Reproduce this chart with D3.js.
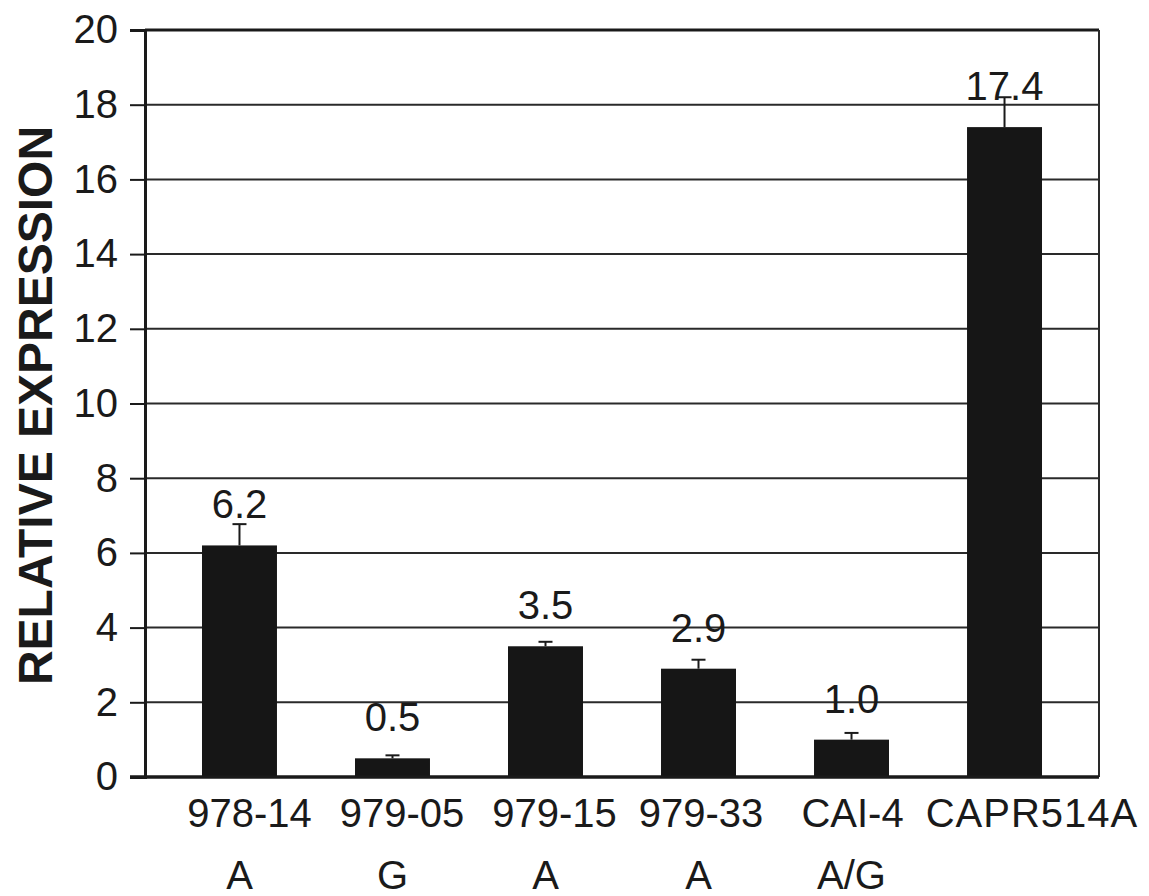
<!DOCTYPE html>
<html>
<head>
<meta charset="utf-8">
<script src="https://cdn.jsdelivr.net/npm/d3@7"></script>
<style>
  html, body { margin: 0; padding: 0; background: #fff; }
  svg { display: block; }
  text { font-family: "Liberation Sans", Arial, sans-serif; fill: #1a1a1a; }
</style>
</head>
<body>
<svg id="chart" width="1149" height="896"></svg>
<script>
// Strain names, allele row and expression values with their error bars
const strains = ["978-14", "979-05", "979-15", "979-33", "CAI-4", "CAPR514A"];
const alleles = ["A", "G", "A", "A", "A/G", ""];
const expression = [6.2, 0.5, 3.5, 2.9, 1.0, 17.4];
const errors = [0.57, 0.08, 0.12, 0.24, 0.18, 0.8];
const yTicks = [0, 2, 4, 6, 8, 10, 12, 14, 16, 18, 20];

const svg = d3.select("#chart");
const plotLeft = 145, plotRight = 1099, plotTop = 30, plotBottom = 777;

const x = d3.scaleBand()
  .domain(strains)
  .range([plotLeft, plotRight])
  .paddingInner(0.51)
  .paddingOuter(0.3725);

const y = d3.scaleLinear().domain([0, 20]).range([plotBottom, plotTop]);

const data = strains.map((s, i) => ({
  strain: s, allele: alleles[i], value: expression[i], err: errors[i]
}));

// Horizontal nudges of the strain names relative to bar centres (layout only)
const nameNudge = [10, 9.5, 9, 2.5, 1, 27.5];

// Horizontal gridlines
svg.append("g")
  .selectAll("line")
  .data(yTicks.filter(t => t > 0 && t < 20))
  .join("line")
  .attr("x1", plotLeft).attr("x2", plotRight)
  .attr("y1", d => y(d)).attr("y2", d => y(d))
  .attr("stroke", "#2a2a2a").attr("stroke-width", 2);

// Frame: top and right
svg.append("line").attr("x1", plotLeft).attr("x2", plotRight)
  .attr("y1", y(20)).attr("y2", y(20))
  .attr("stroke", "#1a1a1a").attr("stroke-width", 3);
svg.append("line").attr("x1", plotRight).attr("x2", plotRight)
  .attr("y1", y(20)).attr("y2", y(0))
  .attr("stroke", "#2a2a2a").attr("stroke-width", 2);

// Y axis with tick labels
const yAxis = svg.append("g")
  .attr("transform", `translate(${plotLeft},0)`)
  .call(d3.axisLeft(y).tickValues(yTicks).tickSize(15).tickPadding(12).tickFormat(d3.format("d")));
yAxis.select(".domain").attr("stroke", "#1a1a1a").attr("stroke-width", 3);
yAxis.selectAll(".tick line").attr("stroke", "#1a1a1a").attr("stroke-width", 2);
yAxis.selectAll(".tick text")
  .attr("font-size", 40)
  .attr("font-family", "Liberation Sans, Arial, sans-serif")
  .attr("fill", "#1a1a1a");

// Bars
svg.append("g")
  .selectAll("rect")
  .data(data)
  .join("rect")
  .attr("x", d => x(d.strain))
  .attr("width", x.bandwidth())
  .attr("y", d => y(d.value))
  .attr("height", d => y(0) - y(d.value))
  .attr("fill", "#161616");

// Error bars (upper)
const eb = svg.append("g").attr("stroke", "#1a1a1a").attr("stroke-width", 2);
eb.selectAll("line.v")
  .data(data)
  .join("line")
  .attr("class", "v")
  .attr("x1", d => x(d.strain) + x.bandwidth() / 2)
  .attr("x2", d => x(d.strain) + x.bandwidth() / 2)
  .attr("y1", d => y(d.value))
  .attr("y2", d => y(d.value + d.err));
eb.selectAll("line.cap")
  .data(data)
  .join("line")
  .attr("class", "cap")
  .attr("x1", d => x(d.strain) + x.bandwidth() / 2 - 7)
  .attr("x2", d => x(d.strain) + x.bandwidth() / 2 + 7)
  .attr("y1", d => y(d.value + d.err))
  .attr("y2", d => y(d.value + d.err));

// Bottom axis line
svg.append("line").attr("x1", plotLeft - 15).attr("x2", plotRight)
  .attr("y1", y(0)).attr("y2", y(0))
  .attr("stroke", "#1a1a1a").attr("stroke-width", 3.5);

// Value labels above bars
svg.append("g")
  .selectAll("text")
  .data(data)
  .join("text")
  .attr("x", d => x(d.strain) + x.bandwidth() / 2)
  .attr("y", d => y(d.value) - 27)
  .attr("text-anchor", "middle")
  .attr("font-size", 40)
  .text(d => d.value.toFixed(1));

// Category labels: strain name and allele
svg.append("g")
  .selectAll("text")
  .data(data)
  .join("text")
  .attr("x", (d, i) => x(d.strain) + x.bandwidth() / 2 + nameNudge[i])
  .attr("y", 827)
  .attr("text-anchor", "middle")
  .attr("font-size", 40)
  .attr("letter-spacing", d => d.strain.length > 6 ? 1 : 0)
  .text(d => d.strain);

svg.append("g")
  .selectAll("text")
  .data(data.filter(d => d.allele))
  .join("text")
  .attr("x", d => x(d.strain) + x.bandwidth() / 2)
  .attr("y", 889)
  .attr("text-anchor", "middle")
  .attr("font-size", 40)
  .text(d => d.allele);

// Y axis title
svg.append("text")
  .attr("transform", `translate(52,${(plotTop + plotBottom) / 2 + 2}) rotate(-90)`)
  .attr("text-anchor", "middle")
  .attr("font-size", 48)
  .attr("font-weight", "bold")
  .text("RELATIVE EXPRESSION");
</script>
</body>
</html>
